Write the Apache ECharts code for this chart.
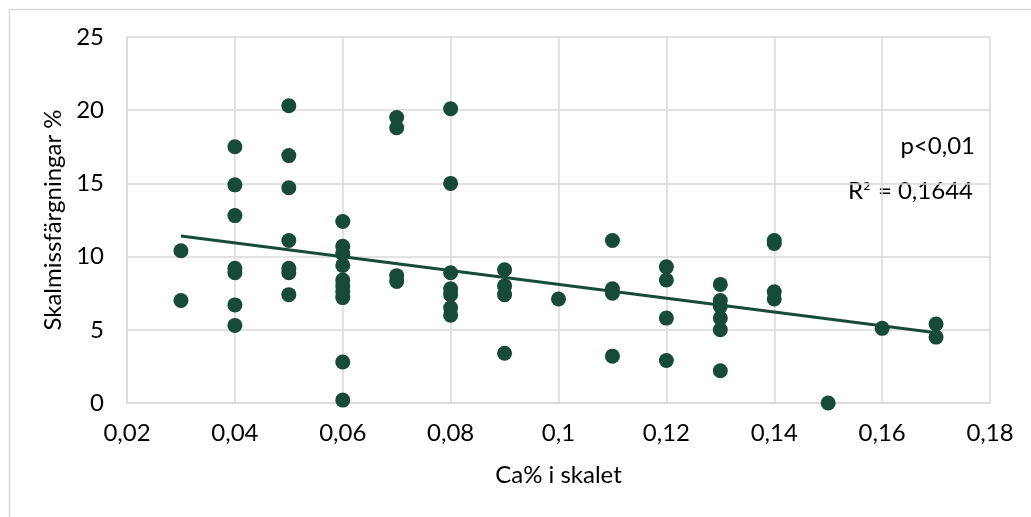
<!DOCTYPE html>
<html>
<head>
<meta charset="utf-8">
<script src="https://cdn.jsdelivr.net/npm/echarts@6/dist/echarts.min.js"></script>
<style>
html,body{margin:0;padding:0;background:#fff;}
#c{width:1031px;height:517px;}
</style>
</head>
<body>
<div id="c"></div>
<script>
// Data
const caValues = [
  0.03, 0.03,
  0.04, 0.04, 0.04, 0.04, 0.04, 0.04, 0.04,
  0.05, 0.05, 0.05, 0.05, 0.05, 0.05, 0.05,
  0.06, 0.06, 0.06, 0.06, 0.06, 0.06, 0.06, 0.06, 0.06, 0.06,
  0.07, 0.07, 0.07, 0.07,
  0.08, 0.08, 0.08, 0.08, 0.08, 0.08, 0.08,
  0.09, 0.09, 0.09, 0.09,
  0.10,
  0.11, 0.11, 0.11, 0.11,
  0.12, 0.12, 0.12, 0.12,
  0.13, 0.13, 0.13, 0.13, 0.13, 0.13,
  0.14, 0.14, 0.14, 0.14,
  0.15,
  0.16,
  0.17, 0.17
];
const discolouration = [
  10.4, 7.0,
  17.5, 14.9, 12.8, 9.2, 8.9, 6.7, 5.3,
  20.3, 16.9, 14.7, 11.1, 9.2, 8.9, 7.4,
  12.4, 10.7, 10.2, 9.4, 8.4, 8.0, 7.6, 7.2, 2.8, 0.2,
  19.5, 18.8, 8.7, 8.3,
  20.1, 15.0, 8.9, 7.8, 7.4, 6.5, 6.0,
  9.1, 8.0, 7.4, 3.4,
  7.1,
  11.1, 7.8, 7.5, 3.2,
  9.3, 8.4, 5.8, 2.9,
  8.1, 7.0, 6.6, 5.8, 5.0, 2.2,
  11.1, 10.9, 7.6, 7.1,
  0.0,
  5.1,
  5.4, 4.5
];
const trendX = [0.03, 0.17];
const trendY = [11.4, 4.8];
const annotationTexts = ['p<0,01', 'R² = 0,1644'];

const green = '#174a37';
const gridGray = '#d9d9d9';
const font = 'Lato, "Open Sans", sans-serif';
const txt = '#000';
const fs = 24;

const chart = echarts.init(document.getElementById('c'), null, {renderer: 'canvas'});
const fmt = v => String(Math.round(v * 100) / 100).replace('.', ',');

const r2Parts = annotationTexts[1].split('²');

chart.setOption({
  animation: false,
  backgroundColor: '#fff',
  grid: {left: 127, top: 37, width: 863, height: 366, containLabel: false},
  xAxis: {
    type: 'value', min: 0.02, max: 0.18, interval: 0.02,
    name: 'Ca% i skalet', nameLocation: 'middle', nameGap: 60,
    nameTextStyle: {fontFamily: font, fontSize: fs, color: txt},
    axisLine: {show: true, lineStyle: {color: gridGray, width: 1.5}},
    axisTick: {show: false},
    axisLabel: {formatter: fmt, fontFamily: font, fontSize: fs, color: txt, margin: 18},
    splitLine: {show: true, lineStyle: {color: gridGray, width: 1.5}}
  },
  yAxis: {
    type: 'value', min: 0, max: 25, interval: 5,
    name: 'Skalmissfärgningar %', nameLocation: 'middle', nameGap: 53,
    nameTextStyle: {fontFamily: font, fontSize: fs, color: txt},
    axisLine: {show: true, lineStyle: {color: gridGray, width: 1.5}},
    axisTick: {show: false},
    axisLabel: {fontFamily: font, fontSize: fs, color: txt, margin: 23},
    splitLine: {show: true, lineStyle: {color: gridGray, width: 1.5}}
  },
  series: [
    {
      type: 'scatter', symbol: 'circle', symbolSize: 15,
      itemStyle: {color: green, opacity: 1},
      data: caValues.map((x, i) => [x, discolouration[i]]),
      z: 3
    },
    {
      type: 'line', symbol: 'none', silent: true,
      lineStyle: {color: green, width: 3},
      data: trendX.map((x, i) => [x, trendY[i]]),
      z: 4
    }
  ],
  graphic: [
    {type: 'rect', left: 7, top: 7, shape: {width: 1040, height: 530},
     style: {fill: 'none', stroke: gridGray, lineWidth: 1.5}, silent: true, z: -1},
    {type: 'text', right: 56, top: 134,
     style: {text: annotationTexts[0], font: fs + 'px ' + font, fill: txt, textAlign: 'right'}},
    {type: 'text', right: 58, top: 179,
     style: {
       text: '{a|' + r2Parts[0] + '}{s|²}{a|' + r2Parts[1] + '}',
       textAlign: 'right',
       rich: {
         a: {fontFamily: font, fontSize: fs, color: txt, lineHeight: 28},
         s: {fontFamily: '"DejaVu Sans", sans-serif', fontSize: 19, color: txt, lineHeight: 28, padding: [0, 1, 0, 0]}
       }
     }}
  ]
});
</script>
</body>
</html>
